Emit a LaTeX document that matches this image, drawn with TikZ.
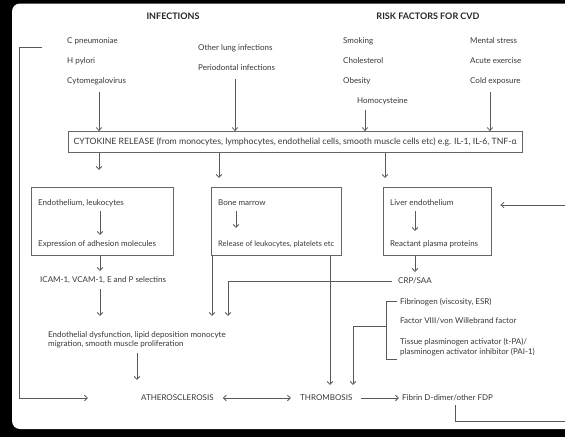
\documentclass[tikz,border=0pt]{standalone}
\usepackage{fontspec}
\setmainfont{Lato}
\usetikzlibrary{arrows.meta}
\begin{document}
\begin{tikzpicture}[x=1pt,y=-1pt,
  txt/.style={font=\fontsize{8}{9.5}\selectfont, text=black!78, inner sep=0pt},
  lbl/.style={txt, anchor=west},
  ttl/.style={font=\fontsize{9}{10}\selectfont\bfseries, text=black!85, inner sep=0pt},
  bx/.style={draw=black!60, line width=0.8pt, fill=none},
  ln/.style={draw=black!65, line width=0.8pt},
  ar/.style={ln, -{Straight Barb[length=3pt,width=5.5pt]}},
  dar/.style={ln, {Straight Barb[length=3pt,width=5.5pt]}-{Straight Barb[length=3pt,width=5.5pt]}}]
\useasboundingbox (0,0) rectangle (565,437);
% scanned frame
\fill[black] (0,0) rectangle (565,437);
\fill[white, rounded corners=8pt] (12,3.5) rectangle (580,429);
% titles
\node[ttl] (inf) at (173,16) {INFECTIONS};
\node[ttl] (risk) at (428,16) {RISK FACTORS FOR CVD};
% infections
\node[lbl] (cpn) at (67,41) {C pneumoniae};
\node[lbl] (hpy) at (67,61) {H pylori};
\node[lbl] (cmv) at (67,81) {Cytomegalovirus};
\node[lbl] (olung) at (198,48) {Other lung infections};
\node[lbl] (perio) at (198,68) {Periodontal infections};
% risk factors
\node[lbl] (smok) at (343,41) {Smoking};
\node[lbl] (chol) at (343,61) {Cholesterol};
\node[lbl] (obes) at (343,81) {Obesity};
\node[lbl] (homo) at (357,101) {Homocysteine};
\node[lbl] (ment) at (470,41) {Mental stress};
\node[lbl] (acut) at (470,61) {Acute exercise};
\node[lbl] (cold) at (470,81) {Cold exposure};
% cytokine box
\node[txt, bx, font=\fontsize{8.7}{10}\selectfont, minimum width=454pt, minimum height=21pt] (cyt) at (295,142)
  {CYTOKINE RELEASE (from monocytes, lymphocytes, endothelial cells, smooth muscle cells etc) e.g. IL-1, IL-6, TNF-α};
\coordinate (c1) at (99,92);
\coordinate (c2) at (235,79);
\coordinate (c3) at (365,110);
\coordinate (c4) at (490,92);
\draw[ar] (c1) -- (c1 |- cyt.north);
\draw[ar] (c2) -- (c2 |- cyt.north);
\draw[ar] (c3) -- (c3 |- cyt.north);
\draw[ar] (c4) -- (c4 |- cyt.north);
% three boxes
\node[bx, minimum width=142pt, minimum height=68pt] (endo) at (102,221) {};
\node[bx, minimum width=130pt, minimum height=68pt] (bone) at (276,221) {};
\node[bx, minimum width=108pt, minimum height=68pt] (liver) at (437,221) {};
\coordinate (d1) at (99,170);
\coordinate (d2) at (219,178);
\coordinate (d3) at (385,178);
\draw[ar] (d1 |- cyt.south) -- (d1);
\draw[ar] (d2 |- cyt.south) -- (d2);
\draw[ar] (d3 |- cyt.south) -- (d3);
% endothelium box contents
\node[lbl] (endo1) at (38,203) {Endothelium, leukocytes};
\node[lbl] (endo2) at (38,244) {Expression of adhesion molecules};
\draw[ar] (100,211) -- (100,235);
% bone marrow contents
\node[lbl] (bone1) at (218,203) {Bone marrow};
\node[lbl, font=\fontsize{7.6}{9}\selectfont] (bone2) at (218,244) {Release of leukocytes, platelets etc};
\draw[ar] (236,211) -- (236,228);
% liver contents
\node[lbl] (liv1) at (390,203) {Liver endothelium};
\node[lbl] (liv2) at (390,244) {Reactant plasma proteins};
\draw[ar] (415,211) -- (415,231);
% left chain
\node[lbl] (icam) at (40,280) {ICAM-1, VCAM-1, E and P selectins};
\draw[ar] (100,255) -- (100,271);
\node[lbl, align=left] (dysf) at (48,340) {Endothelial dysfunction, lipid deposition monocyte\\migration, smooth muscle proliferation};
\draw[ar] (100,289) -- (100,316);
\coordinate (e1) at (137,353);
\draw[ar] (e1) -- (137,380);
% bottom row
\node[lbl] (ath) at (141,398) {ATHEROSCLEROSIS};
\node[lbl] (thr) at (300,398) {THROMBOSIS};
\node[lbl] (fdp) at (402,398) {Fibrin D-dimer/other FDP};
\draw[dar] ([xshift=9pt]ath.east) -- ([xshift=-9pt]thr.west);
\draw[ar] ([xshift=8pt]thr.east) -- ([xshift=-3pt]fdp.west);
% CRP/SAA
\node[lbl] (crp) at (398,281) {CRP/SAA};
\draw[ar] (415,255) -- (415,272);
\draw[ar] ([xshift=-6pt]crp.west) -- (228,281) -- (228,316);
% bone marrow outputs
\draw[ar] (212,255) -- (212,316);
\draw[ar] (330,255) -- (330,385);
% haemostatic factors
\node[lbl] (fib) at (400,302) {Fibrinogen (viscosity, ESR)};
\node[lbl] (f8) at (400,321) {Factor VIII/von Willebrand factor};
\node[lbl, align=left] (tpa) at (400,347) {Tissue plasminogen activator (t-PA)/\\plasminogen activator inhibitor (PAI-1)};
\draw[ln] (397,301) -- (386,301) -- (386,359) -- (397,359);
\draw[ar] (386,326) -- (353,326) -- (353,385);
% left feedback loop
\coordinate (lp) at (42,47);
\draw[ar] (lp) -- (19,47) -- (19,398) -- (88,398);
% right feedback loop
\coordinate (rp1) at (565,421);
\coordinate (rp2) at (565,205);
\draw[ln] (455,405) -- (455,421) -- (rp1);
\draw[ar] (rp2) -- ([xshift=9pt]liver.east |- rp2);
\end{tikzpicture}
\end{document}
